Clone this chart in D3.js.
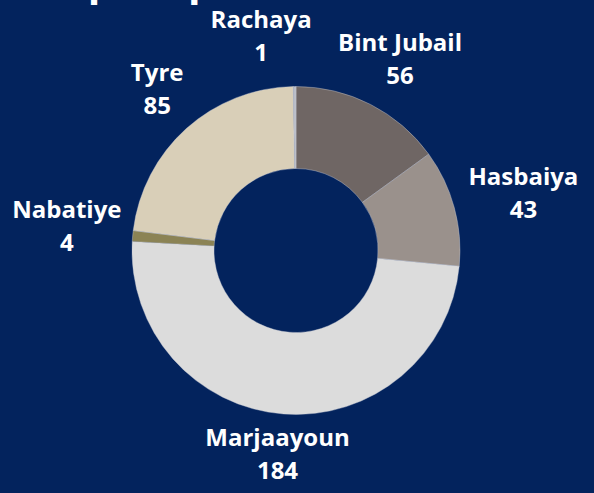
<!DOCTYPE html>
<head>
    <meta charset="utf-8">
    <script src="https://d3js.org/d3.v7.min.js"></script>
    <style>
        body { margin: 0; background: #03235d; }
        svg { display: block; }
        .label { fill: #fff; font-family: "Open Sans", sans-serif; font-weight: 700; font-size: 24px; }
    </style>
</head>
<body>
    <svg id="chart" width="594" height="493"></svg>
    <script>
        // districts, clockwise from 12 o'clock
        districts = ["Bint Jubail", "Hasbaiya", "Marjaayoun", "Nabatiye", "Tyre", "Rachaya"]
        counts = [56, 43, 184, 4, 85, 1]
        colors = ["#6f6664", "#9a918c", "#dcdcdc", "#8b8355", "#d9cfb8", "#b9bdc8"]

        // hand nudges for label blocks (like the original layout)
        labelNudge = {
            "Bint Jubail": [5, 5],
            "Hasbaiya": [17, 2],
            "Marjaayoun": [-2, -12],
            "Nabatiye": [-12, -3],
            "Tyre": [7, 3],
            "Rachaya": [-33, 5]
        }

        width = 594
        height = 493
        cx = 296
        cy = 250.5
        outerR = 164
        innerR = 82

        var svg = d3.select("#chart")

        // title is cut off at the top of the picture
        svg.append("text")
            .attr("x", 34)
            .attr("y", -5)
            .attr("fill", "#fff")
            .attr("font-family", "Open Sans, sans-serif")
            .attr("font-weight", 700)
            .attr("font-size", 41)
            .text("Impact per caza")

        var data = districts.map((d, i) => ({ name: d, value: counts[i], color: colors[i] }))

        var pie = d3.pie().sort(null).value(d => d.value)
        var arcs = pie(data)

        var arc = d3.arc().innerRadius(innerR).outerRadius(outerR)
        var labelArc = d3.arc().innerRadius(218).outerRadius(218)

        var g = svg.append("g").attr("transform", `translate(${cx},${cy})`)

        g.selectAll("path")
            .data(arcs)
            .enter().append("path")
            .attr("d", arc)
            .attr("fill", d => d.data.color)
            .attr("stroke", "#c9ccd6")
            .attr("stroke-width", 0.4)

        var lab = g.selectAll("g.lab")
            .data(arcs)
            .enter().append("g")
            .attr("class", "lab")
            .attr("transform", d => {
                var c = labelArc.centroid(d)
                var n = labelNudge[d.data.name]
                return `translate(${c[0] + n[0]},${c[1] + n[1]})`
            })

        lab.append("text")
            .attr("class", "label")
            .attr("text-anchor", "middle")
            .attr("y", -10)
            .text(d => d.data.name)

        lab.append("text")
            .attr("class", "label")
            .attr("text-anchor", "middle")
            .attr("y", 23)
            .text(d => d.data.value)
    </script>
</body>
